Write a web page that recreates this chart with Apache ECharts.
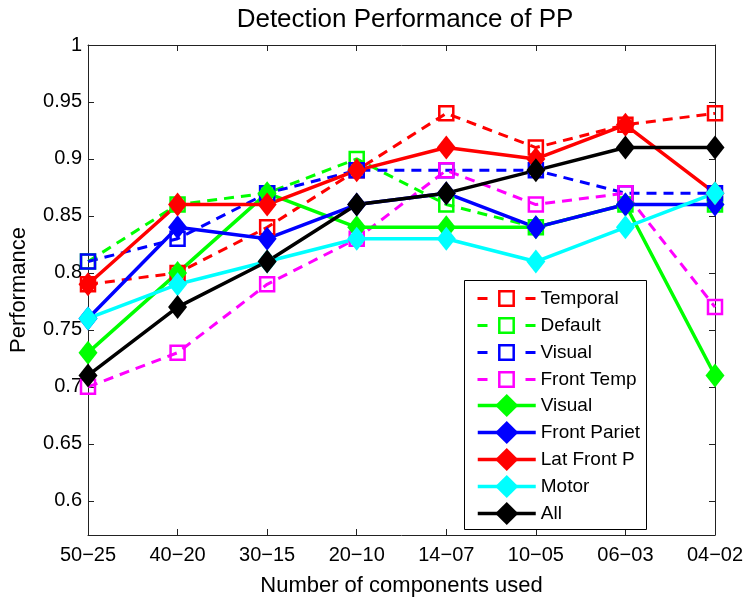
<!DOCTYPE html>
<html>
<head>
<meta charset="utf-8">
<script src="https://cdn.jsdelivr.net/npm/echarts@6/dist/echarts.min.js"></script>
<style>html,body{margin:0;padding:0;background:#fff}#c{width:750px;height:602px}</style>
</head>
<body>
<div id="c"></div>
<script>
const categories = ['50−25','40−20','30−15','20−10','14−07','10−05','06−03','04−02'];
const yTicks = [0.6,0.65,0.7,0.75,0.8,0.85,0.9,0.95,1];

const temporalDash   = [0.79,0.80,0.84,0.89,0.94,0.91,0.93,0.94];
const defaultDash    = [0.81,0.86,0.87,0.90,0.86,0.84,0.86,0.86];
const visualDash     = [0.81,0.83,0.87,0.89,0.89,0.89,0.87,0.87];
const frontTempDash  = [0.70,0.73,0.79,0.83,0.89,0.86,0.87,0.77];
const visualSolid    = [0.73,0.80,0.87,0.84,0.84,0.84,0.86,0.71];
const frontPariet    = [0.76,0.84,0.83,0.86,0.87,0.84,0.86,0.86];
const latFrontP      = [0.79,0.86,0.86,0.89,0.91,0.90,0.93,0.87];
const motor          = [0.76,0.79,0.81,0.83,0.83,0.81,0.84,0.87];
const allComp        = [0.71,0.77,0.81,0.86,0.87,0.89,0.91,0.91];

const FONT = 'Liberation Sans, Arial, Helvetica, sans-serif';

function dashed(name, data, color) {
  return {
    name, type: 'line', data,
    symbol: 'rect', symbolSize: 14,
    itemStyle: { color: 'rgba(255,255,255,0)', borderColor: color, borderWidth: 2.5 },
    lineStyle: { color, width: 3, type: [10, 7] },
    emphasis: { disabled: true }
  };
}
function solid(name, data, color) {
  return {
    name, type: 'line', data,
    symbol: 'diamond', symbolSize: [19, 24],
    itemStyle: { color },
    lineStyle: { color, width: 3.5 },
    emphasis: { disabled: true }
  };
}

const dashedSeries = [
  dashed('Temporal', temporalDash, '#ff0000'),
  dashed('Default', defaultDash, '#00ff00'),
  dashed('Visual', visualDash, '#0000ff'),
  dashed('Front Temp', frontTempDash, '#ff00ff')
];
const solidSeries = [
  solid('Visual ', visualSolid, '#00ff00'),
  solid('Front Pariet', frontPariet, '#0000ff'),
  solid('Lat Front P', latFrontP, '#ff0000'),
  solid('Motor', motor, '#00ffff'),
  solid('All', allComp, '#000000')
];
const series = dashedSeries.concat(solidSeries);

const axisLineStyle = { color: '#222', width: 1 };
const fmt = v => String(parseFloat(Number(v).toFixed(2)));
const legendText = { fontFamily: FONT, fontSize: 19, color: '#000' };

const chart = echarts.init(document.getElementById('c'), null, { renderer: 'canvas' });
chart.setOption({
  animation: false,
  backgroundColor: '#fff',
  title: {
    text: 'Detection Performance of PP',
    left: 400, top: 2, textAlign: 'center',
    textStyle: { fontFamily: FONT, fontSize: 26, fontWeight: 'normal', color: '#000' }
  },
  grid: { left: 86, right: 35, top: 45, bottom: 62, containLabel: false },
  graphic: [{
    type: 'rect', z: 3, silent: true,
    shape: { x: 464.5, y: 280.5, width: 182, height: 249 },
    style: { fill: '#fff', stroke: '#000', lineWidth: 1 }
  }],
  legend: [{
    orient: 'vertical', left: 476, top: 289, padding: 0,
    data: dashedSeries.map(s => s.name),
    itemWidth: 58, itemHeight: 18, itemGap: 8,
    textStyle: Object.assign({ lineHeight: 18 }, legendText),
    lineStyle: { width: 3, type: [10, 38] },
    itemStyle: { borderWidth: 2.5 },
    selectedMode: false, z: 5
  }, {
    orient: 'vertical', left: 476, top: 391, padding: 0,
    data: solidSeries.map(s => s.name),
    itemWidth: 58, itemHeight: 29, itemGap: -2,
    textStyle: Object.assign({ lineHeight: 29 }, legendText),
    lineStyle: { width: 3.5 },
    selectedMode: false, z: 5
  }],
  xAxis: [{
    type: 'category', data: categories, boundaryGap: false,
    axisLine: { lineStyle: axisLineStyle },
    axisTick: { inside: true, length: 6, lineStyle: axisLineStyle },
    axisLabel: { fontFamily: FONT, fontSize: 20, color: '#000', margin: 10 },
    name: 'Number of components used', nameLocation: 'middle', nameGap: 40,
    nameTextStyle: { fontFamily: FONT, fontSize: 22, color: '#000' },
    splitLine: { show: false }
  }, {
    type: 'category', data: categories, boundaryGap: false, position: 'top',
    axisLine: { lineStyle: axisLineStyle },
    axisTick: { inside: true, length: 6, lineStyle: axisLineStyle },
    axisLabel: { show: false }, splitLine: { show: false }
  }],
  yAxis: [{
    type: 'value', min: 0.57, max: 1,
    axisLine: { show: true, lineStyle: axisLineStyle },
    axisTick: { show: true, inside: true, length: 6, lineStyle: axisLineStyle, customValues: yTicks },
    axisLabel: { fontFamily: FONT, fontSize: 20, color: '#000', margin: 6, customValues: yTicks, formatter: fmt },
    splitLine: { show: false },
    name: 'Performance', nameLocation: 'middle', nameGap: 58, nameRotate: 90,
    nameTextStyle: { fontFamily: FONT, fontSize: 22, color: '#000' }
  }, {
    type: 'value', min: 0.57, max: 1, position: 'right',
    axisLine: { show: true, lineStyle: axisLineStyle },
    axisTick: { show: true, inside: true, length: 6, lineStyle: axisLineStyle, customValues: yTicks },
    axisLabel: { show: false }, splitLine: { show: false }
  }],
  series
});
</script>
</body>
</html>
